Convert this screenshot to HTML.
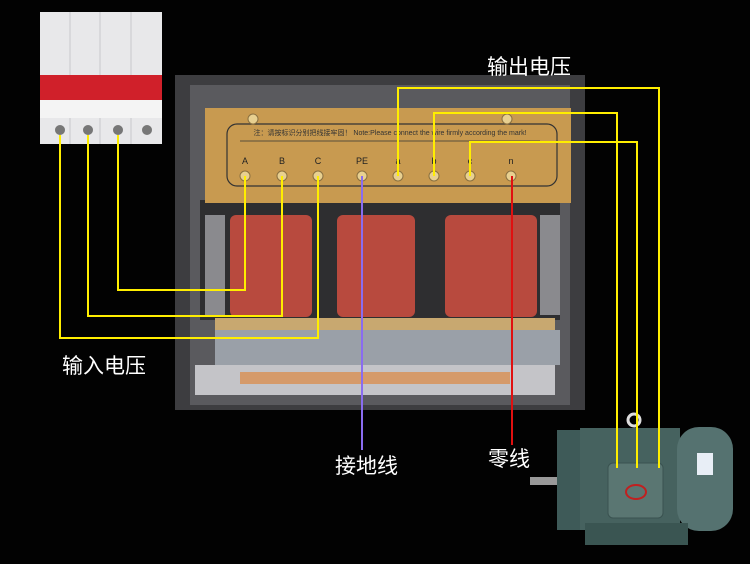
<!DOCTYPE html>
<html><head><meta charset="utf-8"><style>
body{margin:0;background:#000;width:750px;height:564px;overflow:hidden}
svg{display:block}
text{font-family:"Liberation Sans","Noto Sans CJK SC",sans-serif}
</style></head><body>
<svg width="750" height="564" viewBox="0 0 750 564">
<rect width="750" height="564" fill="#020202"/>
<rect x="175" y="75" width="410" height="335" fill="#3d3d40"/>
<rect x="190" y="85" width="380" height="320" fill="#5a5a5e"/>
<rect x="200" y="200" width="360" height="120" fill="#2e2e30"/>
<rect x="205" y="215" width="20" height="100" fill="#8a8a8e"/>
<rect x="540" y="215" width="20" height="100" fill="#8a8a8e"/>
<rect x="230" y="215" width="82" height="102" rx="6" fill="#b84a3e"/>
<rect x="337" y="215" width="78" height="102" rx="6" fill="#b84a3e"/>
<rect x="445" y="215" width="92" height="102" rx="6" fill="#b84a3e"/>
<rect x="215" y="318" width="340" height="14" fill="#c8a870"/>
<rect x="215" y="330" width="345" height="35" fill="#9aa0a8"/>
<rect x="195" y="365" width="360" height="30" fill="#c4c4c8"/>
<rect x="240" y="372" width="270" height="12" fill="#d59a6a"/>
<rect x="205" y="108" width="366" height="95" fill="#c89a50"/>
<rect x="227" y="124" width="330" height="62" rx="10" fill="none" stroke="#333" stroke-width="1.2"/>
<text x="390" y="135" font-size="7" text-anchor="middle" fill="#333">注：请按标识分别把线接牢固！ Note:Please connect the wire firmly according the mark!</text>
<line x1="240" y1="141" x2="540" y2="141" stroke="#333" stroke-width="0.8"/>
<g font-size="9" fill="#222" text-anchor="middle">
<text x="245" y="164">A</text><text x="282" y="164">B</text><text x="318" y="164">C</text><text x="362" y="164">PE</text><text x="398" y="164">a</text><text x="434" y="164">b</text><text x="470" y="164">c</text><text x="511" y="164">n</text>
</g>
<g fill="#e8d090" stroke="#8a7040">
<circle cx="245" cy="176" r="5"/><circle cx="282" cy="176" r="5"/><circle cx="318" cy="176" r="5"/><circle cx="362" cy="176" r="5"/><circle cx="398" cy="176" r="5"/><circle cx="434" cy="176" r="5"/><circle cx="470" cy="176" r="5"/><circle cx="511" cy="176" r="5"/>
<circle cx="253" cy="119" r="5"/><circle cx="507" cy="119" r="5"/>
</g>
<rect x="40" y="12" width="122" height="132" fill="#e8e8ea"/>
<g stroke="#c8c8cc"><line x1="70" y1="12" x2="70" y2="144"/><line x1="100" y1="12" x2="100" y2="144"/><line x1="131" y1="12" x2="131" y2="144"/></g>
<rect x="40" y="75" width="122" height="25" fill="#d0202a"/>
<rect x="40" y="100" width="122" height="18" fill="#f4f4f4"/>
<g fill="#777"><circle cx="60" cy="130" r="5"/><circle cx="88" cy="130" r="5"/><circle cx="118" cy="130" r="5"/><circle cx="147" cy="130" r="5"/></g>
<rect x="557" y="430" width="24" height="100" fill="#3e5a58"/>
<rect x="530" y="477" width="27" height="8" fill="#999"/>
<rect x="580" y="428" width="100" height="102" fill="#46625f"/>
<rect x="677" y="427" width="56" height="104" rx="22" fill="#557270"/>
<rect x="585" y="523" width="103" height="22" fill="#3a5552"/>
<rect x="608" y="463" width="55" height="55" rx="5" fill="#5a7672" stroke="#3a5250"/>
<ellipse cx="636" cy="492" rx="10" ry="7" fill="none" stroke="#c02020" stroke-width="2"/>
<rect x="697" y="453" width="16" height="22" fill="#e8eef6"/>
<circle cx="634" cy="420" r="6" fill="none" stroke="#ddd" stroke-width="3"/>
<g fill="none" stroke="#ffee00" stroke-width="2">
<polyline points="118,135 118,290 245,290 245,176"/>
<polyline points="88,135 88,316 282,316 282,176"/>
<polyline points="60,135 60,338 318,338 318,176"/>
<polyline points="398,176 398,88 659,88 659,468"/>
<polyline points="434,176 434,113 617,113 617,468"/>
<polyline points="470,176 470,142 637,142 637,468"/>
</g>
<line x1="362" y1="176" x2="362" y2="450" stroke="#8a6cf0" stroke-width="2"/>
<line x1="512" y1="176" x2="512" y2="445" stroke="#e01010" stroke-width="2"/>
<g fill="#fff" font-size="21">
<text x="487" y="74">输出电压</text>
<text x="62" y="373">输入电压</text>
<text x="335" y="473">接地线</text>
<text x="488" y="466">零线</text>
</g>
</svg>
</body></html>
